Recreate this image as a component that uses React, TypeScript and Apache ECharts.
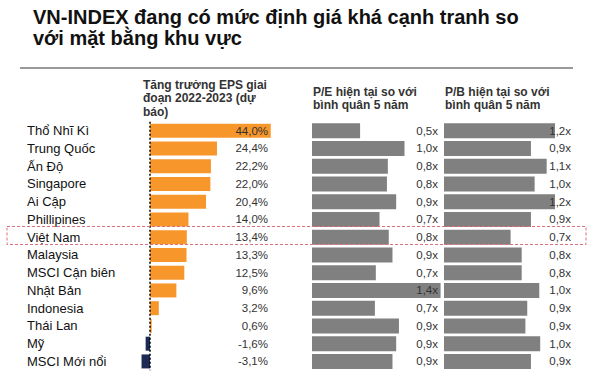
import React, { useEffect, useRef } from "react";
import * as echarts from "echarts";

const categories = [
  "Thổ Nhĩ Kì", "Trung Quốc", "Ấn Độ", "Singapore", "Ai Cập", "Phillipines", "Việt Nam",
  "Malaysia", "MSCI Cận biên", "Nhật Bản", "Indonesia", "Thái Lan", "Mỹ", "MSCI Mới nổi",
];
const epsGrowth = [44.0, 24.4, 22.2, 22.0, 20.4, 14.0, 13.4, 13.3, 12.5, 9.6, 3.2, 0.6, -1.6, -3.1];
const peRatio = [0.52, 1.0, 0.82, 0.81, 0.91, 0.73, 0.83, 0.87, 0.69, 1.39, 0.68, 0.94, 0.91, 0.87];
const pbRatio = [1.2, 0.94, 1.11, 0.98, 1.2, 0.94, 0.72, 0.84, 0.84, 1.03, 0.9, 0.88, 1.04, 0.94];

const titleLines = ["VN-INDEX đang có mức định giá khá cạnh tranh so", "với mặt bằng khu vực"];
const epsHeader = ["Tăng trưởng EPS giai", "đoạn 2022-2023 (dự", "báo)"];
const peHeader = ["P/E hiện tại so với", "bình quân 5 năm"];
const pbHeader = ["P/B hiện tại so với", "bình quân 5 năm"];

const FONT = "Liberation Sans, Arial, sans-serif";
const fmt = (v: number, unit: string) => v.toFixed(1).replace(".", ",") + unit;

export default function App() {
  const ref = useRef<HTMLDivElement>(null);
  useEffect(() => {
    document.body.style.margin = "0";
    if (!ref.current) return;
    const chart = echarts.init(ref.current, null, { renderer: "svg" });
    const top = 121.8;
    const height = 248.5;
    const g0 = { left: 122.6, width: 164.6 };
    const g1 = { left: 312, width: 138.75 };
    const g2 = { left: 444, width: 129.5 };
    const valueLabel = (margin: number) => ({
      align: "right" as const,
      margin,
      fontSize: 11.5,
      color: "#333",
      fontFamily: FONT,
    });
    chart.setOption({
      animation: false,
      backgroundColor: "#fff",
      grid: [
        { left: g0.left, width: g0.width, top, height },
        { left: g1.left, width: g1.width, top, height },
        { left: g2.left, width: g2.width, top, height },
      ],
      xAxis: [
        { gridIndex: 0, type: "value", min: -10, max: 50, show: false },
        { gridIndex: 1, type: "value", min: 0, max: 1.5, show: false },
        { gridIndex: 2, type: "value", min: 0, max: 1.4, show: false },
      ],
      yAxis: [
        {
          gridIndex: 0, type: "category", data: categories, inverse: true, z: 5,
          axisLine: { show: false },
          axisTick: { show: false },
          axisLabel: { align: "left", margin: g0.left - 27, fontSize: 13, color: "#111", fontFamily: FONT },
        },
        {
          gridIndex: 0, type: "category", position: "right", inverse: true, z: 5,
          data: epsGrowth.map((v) => fmt(v, "%")),
          axisLine: { show: false }, axisTick: { show: false },
          axisLabel: valueLabel(268 - (g0.left + g0.width)),
        },
        { gridIndex: 1, type: "category", data: categories, inverse: true, show: false },
        {
          gridIndex: 1, type: "category", position: "right", inverse: true, z: 5,
          data: peRatio.map((v) => fmt(v, "x")),
          axisLine: { show: false }, axisTick: { show: false },
          axisLabel: valueLabel(438 - (g1.left + g1.width)),
        },
        { gridIndex: 2, type: "category", data: categories, inverse: true, show: false },
        {
          gridIndex: 2, type: "category", position: "right", inverse: true, z: 5,
          data: pbRatio.map((v) => fmt(v, "x")),
          axisLine: { show: false }, axisTick: { show: false },
          axisLabel: valueLabel(571 - (g2.left + g2.width)),
        },
      ],
      series: [
        {
          type: "bar", xAxisIndex: 0, yAxisIndex: 0, barWidth: 14, z: 1,
          data: epsGrowth.map((v) => ({ value: v, itemStyle: { color: v < 0 ? "#1c2a55" : "#f7962b" } })),
          markLine: {
            silent: true, symbol: "none", label: { show: false },
            lineStyle: { color: "#000", type: [2, 2], width: 1.5 },
            data: [{ xAxis: 0 }],
          },
        },
        {
          type: "bar", xAxisIndex: 1, yAxisIndex: 2, barWidth: 15, z: 1,
          itemStyle: { color: "#808080" }, data: peRatio,
        },
        {
          type: "bar", xAxisIndex: 2, yAxisIndex: 4, barWidth: 15, z: 1,
          itemStyle: { color: "#808080" }, data: pbRatio,
        },
      ],
      graphic: [
        {
          type: "text", left: 33, top: 6,
          style: {
            text: titleLines.join("\n"), fontSize: 20, fontWeight: "bold", lineHeight: 21,
            fill: "#111", fontFamily: FONT,
          },
        },
        {
          type: "line", shape: { x1: 20, y1: 68, x2: 573, y2: 68 },
          style: { stroke: "#999", lineWidth: 2 },
        },
        {
          type: "text", left: 143, top: 78,
          style: {
            text: epsHeader.join("\n"), fontSize: 12, fontWeight: "bold", lineHeight: 13.5,
            fill: "#333", fontFamily: FONT,
          },
        },
        {
          type: "text", left: 313, top: 85,
          style: {
            text: peHeader.join("\n"), fontSize: 12, fontWeight: "bold", lineHeight: 13.5,
            fill: "#333", fontFamily: FONT,
          },
        },
        {
          type: "text", left: 445, top: 85,
          style: {
            text: pbHeader.join("\n"), fontSize: 12, fontWeight: "bold", lineHeight: 13.5,
            fill: "#333", fontFamily: FONT,
          },
        },
        {
          type: "rect", z: 10, shape: { x: 7, y: 226.5, width: 579, height: 18 },
          style: { fill: "none", stroke: "#d9707c", lineWidth: 1, lineDash: [3, 2] },
        },
      ],
    });
    return () => chart.dispose();
  }, []);
  return <div ref={ref} style={{ width: 595, height: 376 }} />;
}
